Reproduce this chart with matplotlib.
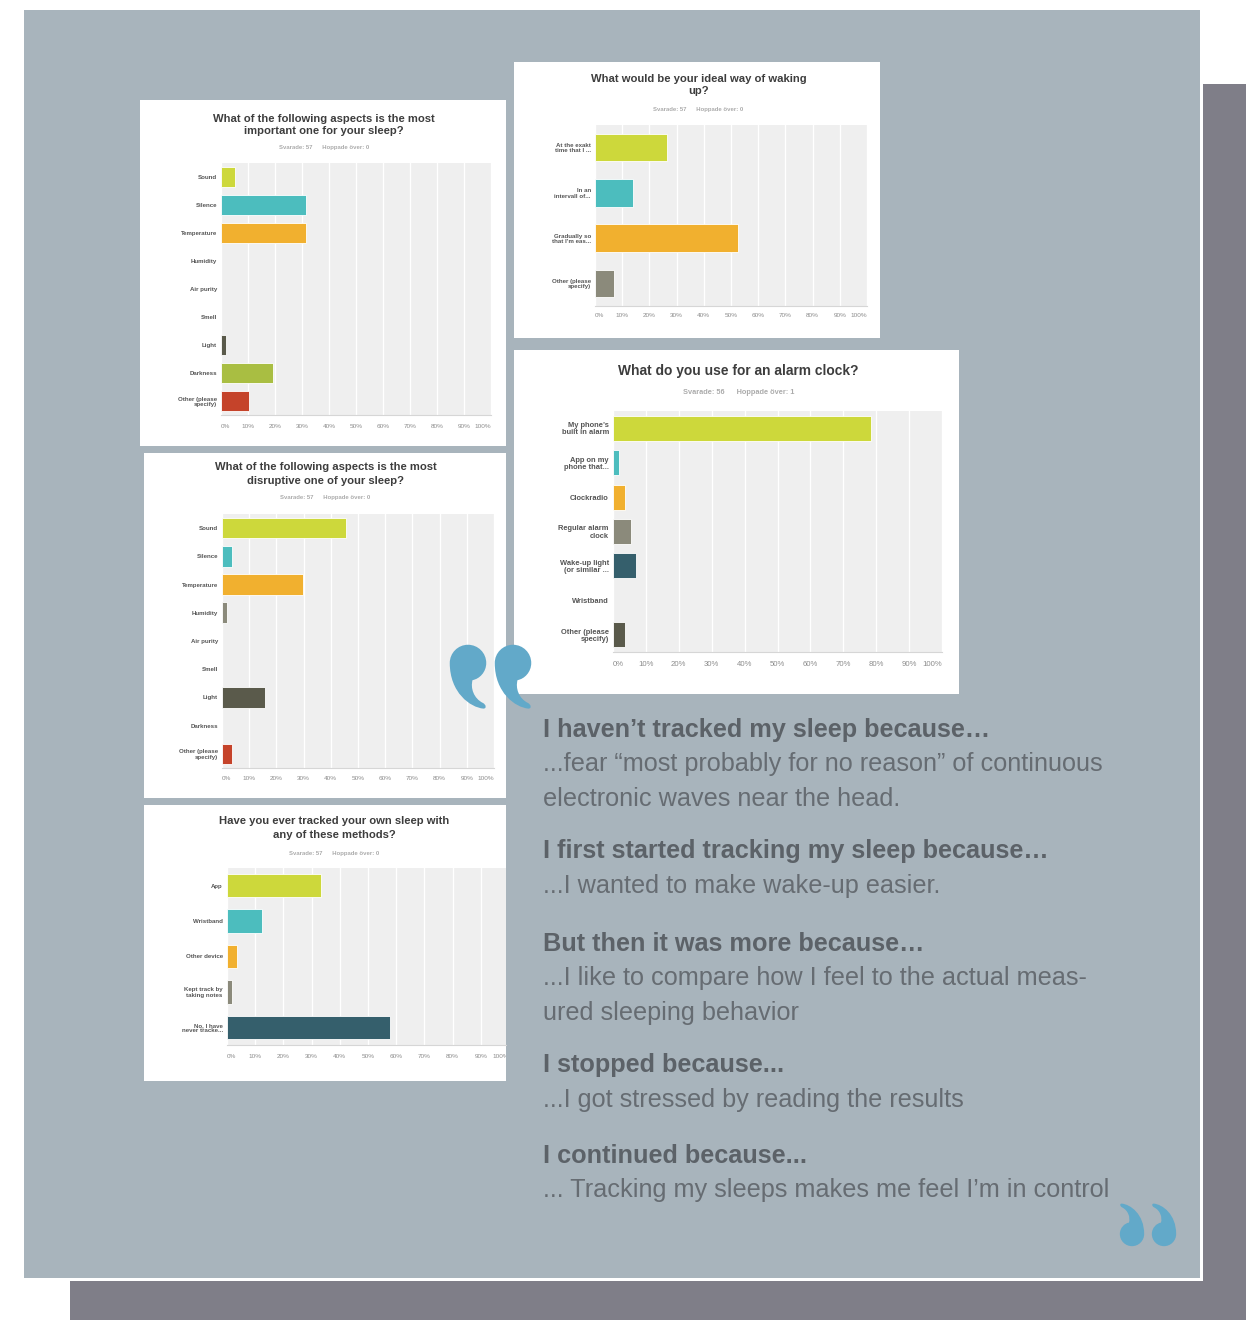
import numpy as np
import matplotlib
matplotlib.use('Agg')
import matplotlib.pyplot as plt
from matplotlib.patches import Rectangle, PathPatch
from matplotlib.path import Path
from matplotlib.transforms import Affine2D, Bbox, TransformedBbox

W, H = 1252, 1320
plt.rcParams['font.family'] = ['Liberation Sans', 'DejaVu Sans']

# ---------------- data ----------------
q1_title = ["What of the following aspects is the most", "important one for your sleep?"]
q1_sub = "Svarade: 57      Hoppade över: 0"
q1_labels = ["Sound", "Silence", "Temperature", "Humidity", "Air purity", "Smell",
             "Light", "Darkness", "Other (please\nspecify)"]
q1_values = [5.26, 31.58, 31.58, 0, 0, 0, 1.75, 19.30, 10.53]

q2_title = ["What would be your ideal way of waking", "up?"]
q2_sub = "Svarade: 57      Hoppade över: 0"
q2_labels = ["At the exakt\ntime that I ...", "In an\nintervall of...",
             "Gradually so\nthat I’m eas...", "Other (please\nspecify)"]
q2_values = [26.32, 14.04, 52.63, 7.02]

q3_title = ["What do you use for an alarm clock?"]
q3_sub = "Svarade: 56      Hoppade över: 1"
q3_labels = ["My phone’s\nbuilt in alarm", "App on my\nphone that...", "Clockradio",
             "Regular alarm\nclock", "Wake-up light\n(or similar ...", "Wristband",
             "Other (please\nspecify)"]
q3_values = [78.57, 1.79, 3.57, 5.36, 7.14, 0, 3.57]

q4_title = ["What of the following aspects is the most", "disruptive one of your sleep?"]
q4_sub = "Svarade: 57      Hoppade över: 0"
q4_labels = ["Sound", "Silence", "Temperature", "Humidity", "Air purity", "Smell",
             "Light", "Darkness", "Other (please\nspecify)"]
q4_values = [45.61, 3.51, 29.82, 1.75, 0, 0, 15.79, 0, 3.51]

q5_title = ["Have you ever tracked your own sleep with", "any of these methods?"]
q5_sub = "Svarade: 57      Hoppade över: 0"
q5_labels = ["App", "Wristband", "Other device", "Kept track by\ntaking notes",
             "No, I have\nnever tracke..."]
q5_values = [33.33, 12.28, 3.51, 1.75, 57.89]

x_ticks = [0, 10, 20, 30, 40, 50, 60, 70, 80, 90, 100]

quotes = [
    ("I haven’t tracked my sleep because…",
     ["...fear “most probably for no reason” of continuous",
      "electronic waves near the head."]),
    ("I first started tracking my sleep because…",
     ["...I wanted to make wake-up easier."]),
    ("But then it was more because…",
     ["...I like to compare how I feel to the actual meas-",
      "ured sleeping behavior"]),
    ("I stopped because...",
     ["...I got stressed by reading the results"]),
    ("I continued because...",
     ["... Tracking my sleeps makes me feel I’m in control"]),
]

# ---------------- styles ----------------
PALETTE = ['#CDD83B', '#4CBDBE', '#F1B02F', '#8B8A7B', '#355F6C',
           '#9C7BA8', '#5A5A4B', '#A9BE42', '#C5432A']
PANEL = '#A8B4BC'
SHADOW = '#7F7E88'
QUOTE_BLUE = '#62A9C9'

fig = plt.figure(figsize=(W / 100, H / 100), dpi=100)
fig.patch.set_facecolor('white')

bg = fig.add_axes([0, 0, 1, 1], zorder=0)
bg.set_xlim(0, W)
bg.set_ylim(H, 0)
bg.axis('off')


def rect(ax, x0, y0, x1, y1, color, z=1, **kw):
    ax.add_patch(Rectangle((x0, y0), x1 - x0, y1 - y0, facecolor=color,
                           edgecolor='none', zorder=z, **kw))


# shadow + main panel
rect(bg, 70, 84, 1246, 1325, SHADOW, z=1)
rect(bg, 21, 7, 1203, 1281, 'white', z=2)
rect(bg, 24, 10, 1200, 1278, PANEL, z=3)

# cards
cards = {
    1: (140, 100, 506, 446),
    2: (514, 62, 880, 338),
    3: (514, 350, 959, 694),
    4: (144, 453, 506, 798),
    5: (144, 805, 506, 1081),
}
for c in cards.values():
    rect(bg, *c, 'white', z=4)


def titles(cx, ys, lines, sub, sub_y, tfs, sfs):
    for y, t in zip(ys, lines):
        bg.text(cx, y, t, ha='center', va='center', fontsize=tfs,
                fontweight='bold', color='#3D3D3D', zorder=5)
    bg.text(cx, sub_y, sub, ha='center', va='center', fontsize=sfs,
            fontweight='bold', color='#ABABAB', zorder=5)


titles(324, [118.5, 131.5], q1_title, q1_sub, 148, 8.1, 4.3)
titles(698.5, [78.5, 91.5], q2_title, q2_sub, 109, 8.1, 4.3)
titles(738.5, [371.5], q3_title, q3_sub, 393, 9.9, 5.3)
titles(325.5, [467.5, 481.5], q4_title, q4_sub, 498, 8.1, 4.3)
titles(334, [821.5, 835.5], q5_title, q5_sub, 853, 8.1, 4.3)


def chart(box, labels, values, bar_h, lab_fs, tick_fs, xpad, xmax=100, clip_card=None):
    x0, y0, x1, y1 = box
    ax = fig.add_axes([x0 / W, 1 - y1 / H, (x1 - x0) / W, (y1 - y0) / H], zorder=2)
    ax.set_facecolor('#EFEFEF')
    n = len(labels)
    pos = np.arange(n)
    lws = [0.6 if v > 0 else 0 for v in values]
    ax.barh(pos, values, height=bar_h, color=[PALETTE[i] for i in range(n)],
            edgecolor='white', linewidth=lws, zorder=3)
    ax.set_ylim(n - 0.5, -0.5)
    ax.set_xlim(0, xmax)
    ticks = [t for t in x_ticks if t <= xmax]
    ax.set_xticks(ticks)
    ax.set_xticklabels([f"{t}%" for t in ticks], fontsize=tick_fs, color='#8C8C8C')
    tl = ax.get_xticklabels()
    tl[0].set_ha('left')
    if ticks[-1] == 100:
        tl[-1].set_ha('right')
    ax.set_yticks(pos)
    ax.set_yticklabels(labels, fontsize=lab_fs, fontweight='bold', color='#555555',
                       linespacing=1.05)
    ax.grid(axis='x', color='white', lw=0.9, zorder=1)
    ax.grid(axis='y', visible=False)
    ax.set_axisbelow(True)
    for s in ['top', 'right', 'left']:
        ax.spines[s].set_visible(False)
    ax.spines['bottom'].set_color('#D6D6D6')
    ax.spines['bottom'].set_linewidth(0.8)
    ax.tick_params(axis='both', length=0)
    ax.tick_params(axis='x', pad=xpad)
    ax.tick_params(axis='y', pad=3)
    if clip_card is not None:
        cx0, cy0, cx1, cy1 = clip_card
        cb = TransformedBbox(Bbox.from_extents(cx0 / W, 1 - cy1 / H, cx1 / W, 1 - cy0 / H),
                             fig.transFigure)
        frac = (xpad / 0.72) / (y1 - y0)
        t = ax.text(100, -frac, "100%", transform=ax.get_xaxis_transform(),
                    ha='right', va='top', fontsize=tick_fs, color='#8C8C8C')
        t.set_clip_on(True)
        t.set_clip_box(cb)
    return ax


chart((221, 163, 491, 415), q1_labels, q1_values, 0.74, 4.4, 4.6, 6.2)
chart((595, 125, 867, 306), q2_labels, q2_values, 0.61, 4.4, 4.6, 4.8)
chart((613, 411, 942, 652), q3_labels, q3_values, 0.73, 5.4, 5.6, 6.8)
chart((222, 514, 494, 768), q4_labels, q4_values, 0.73, 4.4, 4.6, 5.6)
chart((227, 868, 506, 1045), q5_labels, q5_values, 0.66, 4.4, 4.6, 6.2,
      xmax=100 * (506 - 227) / (509 - 227), clip_card=cards[5])

# right-hand text
TX = 543
head_base = [737, 858, 951, 1072, 1163]
LINE = 34.5
for (head, body), yb in zip(quotes, head_base):
    bg.text(TX, yb, head, ha='left', va='baseline', fontsize=18.2,
            fontweight='bold', color='#5C6268', zorder=5)
    for i, line in enumerate(body):
        bg.text(TX, yb + LINE * (i + 1), line, ha='left', va='baseline',
                fontsize=18.2, color='#666C72', zorder=5)

# quote marks
ov = fig.add_axes([0, 0, 1, 1], zorder=10)
ov.set_xlim(0, W)
ov.set_ylim(H, 0)
ov.axis('off')
ov.patch.set_alpha(0)

k = 8.84
verts = [
    (0, -16),
    (k, -16), (16, -k), (16, 0),
    (16, 8), (10, 14), (4, 15),
    (2, 22), (5, 31), (13, 35),
    (16, 36.5), (16.5, 40), (13.5, 40),
    (2, 39), (-16, 26), (-16, 0),
    (-16, -k), (-k, -16), (0, -16),
    (0, -16),
]
codes = [Path.MOVETO] + [Path.CURVE4] * 18 + [Path.CLOSEPOLY]
base = Path(verts, codes)


def mark(cx, cy, s, rot):
    tr = Affine2D().scale(s).rotate_deg(rot).translate(cx, cy)
    ov.add_patch(PathPatch(tr.transform_path(base), facecolor=QUOTE_BLUE,
                           edgecolor='none', zorder=10))


mark(468, 663, 1.14, 0)
mark(513, 663, 1.14, 0)
mark(1132, 1234, 0.76, 180)
mark(1164, 1234, 0.76, 180)

fig.savefig('out.png', dpi=100, facecolor='white')
